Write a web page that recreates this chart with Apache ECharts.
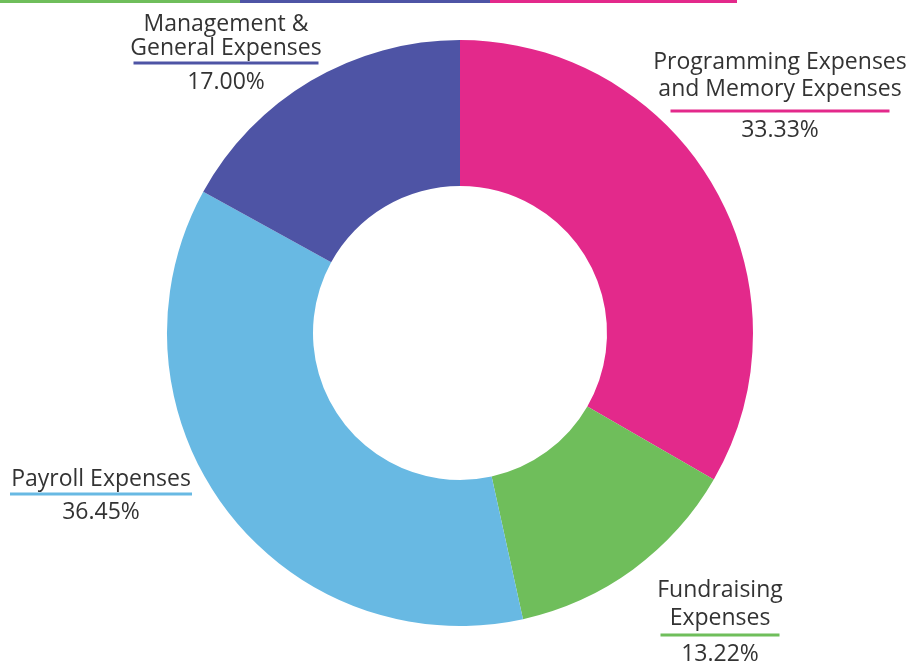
<!DOCTYPE html>
<html>
<head>
<meta charset="utf-8">
<script src="https://cdn.jsdelivr.net/npm/echarts@6/dist/echarts.min.js"></script>
<style>
  html, body { margin: 0; padding: 0; background: #fff; }
  #chart { width: 917px; height: 662px; }
</style>
</head>
<body>
<div id="chart"></div>
<script>
var categories = ['Programming Expenses and Memory Expenses', 'Fundraising Expenses', 'Payroll Expenses', 'Management & General Expenses'];
var labelLines = ['Programming Expenses\nand Memory Expenses', 'Fundraising\nExpenses', 'Payroll Expenses', 'Management &\nGeneral Expenses'];
var percents = [33.33, 13.22, 36.45, 17.00];
var colors = ['#e3298b', '#6fbe5b', '#68b9e3', '#4e54a5'];

// label layout (top-centre of each label block, line heights, underline widths)
var labelAnchors = [[780, 49], [720, 576], [101, 467], [226, 12]];
var nameLH = [27, 28, 24, 24];
var underLH = [16, 6, 6, 6];
var pctLH = [22, 32, 30, 32];
var underlineWidths = [219, 119, 182, 185];

var chart = echarts.init(document.getElementById('chart'));

var seriesData = categories.map(function (c, i) {
    return {
        name: c,
        value: percents[i],
        itemStyle: { color: colors[i] },
        label: {
            rich: {
                n: { fontFamily: 'Open Sans', fontSize: 23, color: '#333', lineHeight: nameLH[i], align: 'center' },
                u: { width: underlineWidths[i], height: 3, backgroundColor: colors[i], lineHeight: underLH[i], align: 'center' },
                p: { fontFamily: 'Open Sans', fontSize: 23, color: '#333', lineHeight: pctLH[i], align: 'center' }
            }
        }
    };
});

var option = {
    animation: false,
    backgroundColor: '#fff',
    graphic: [
        { type: 'rect', shape: { x: 0, y: 0, width: 240, height: 3 }, style: { fill: '#6fbe5b' } },
        { type: 'rect', shape: { x: 240, y: 0, width: 250, height: 3 }, style: { fill: '#4e54a5' } },
        { type: 'rect', shape: { x: 490, y: 0, width: 247, height: 3 }, style: { fill: '#e3298b' } }
    ],
    series: [
        {
            type: 'pie',
            center: [460, 333],
            radius: [147, 293],
            startAngle: 90,
            clockwise: true,
            data: seriesData,
            label: {
                show: true,
                position: 'outside',
                overflow: 'none',
                fontFamily: 'Open Sans',
                fontSize: 23,
                color: '#333',
                align: 'center',
                formatter: function (p) {
                    return '{n|' + labelLines[p.dataIndex].split('\n').join('}\n{n|') + '}\n{u|}\n{p|' + p.value.toFixed(2) + '%}';
                }
            },
            labelLayout: function (params) {
                var a = labelAnchors[params.dataIndex];
                return { x: a[0], y: a[1], align: 'center', verticalAlign: 'top' };
            },
            labelLine: { show: false },
            emphasis: { disabled: true }
        }
    ]
};
chart.setOption(option);
</script>
</body>
</html>
